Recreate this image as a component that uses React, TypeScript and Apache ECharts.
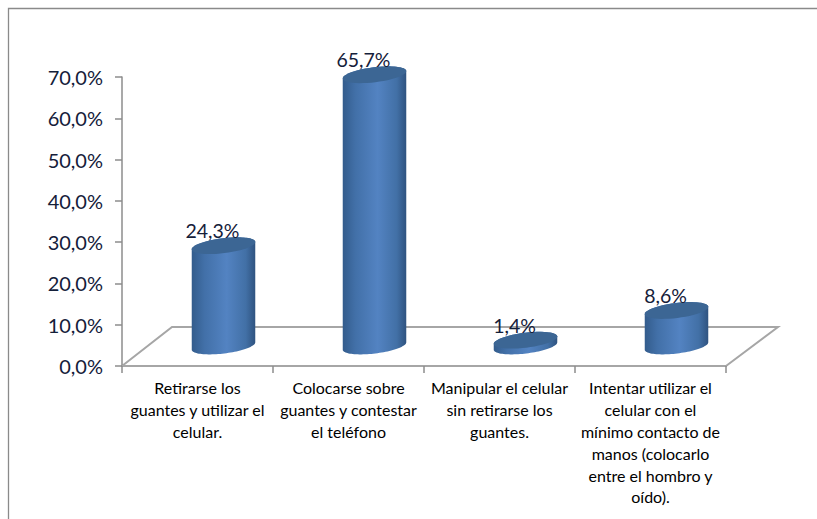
import React, { useEffect, useRef } from "react";
import * as echarts from "echarts";

const categories = [
  "Retirarse los\nguantes y utilizar el\ncelular.",
  "Colocarse sobre\nguantes y contestar\nel teléfono",
  "Manipular el celular\nsin retirarse los\nguantes.",
  "Intentar utilizar el\ncelular con el\nmínimo contacto de\nmanos (colocarlo\nentre el hombro y\noído).",
];
const values = [24.3, 65.7, 1.4, 8.6];
const valueTicks = [0, 10, 20, 30, 40, 50, 60, 70];

const FONT = "Lato, 'Open Sans', sans-serif";
const fmt = (v: number) => v.toFixed(1).replace(".", ",") + "%";

const DEPTH_X = 26;
const DEPTH_Y = -20;
const RX = 32;
const RY = 7.5;
const TILT_DEG = -7;

// Outline of the tilted ellipse between two parametric angles
function ellipseArc(cx: number, cy: number, from: number, to: number): number[][] {
  const t = (TILT_DEG * Math.PI) / 180;
  const steps = 48;
  const pts: number[][] = [];
  for (let k = 0; k <= steps; k++) {
    const a = from + ((to - from) * k) / steps;
    const x = RX * Math.cos(a);
    const y = RY * Math.sin(a);
    pts.push([cx + x * Math.cos(t) - y * Math.sin(t), cy + x * Math.sin(t) + y * Math.cos(t)]);
  }
  return pts;
}

function renderCylinder(_params: any, api: any) {
  const i = api.value(0);
  const v = api.value(1);
  const base = api.coord([i, 0]);
  const top = api.coord([i, v]);
  const cx = base[0] + DEPTH_X;
  const by = base[1] + DEPTH_Y;
  const ty = top[1] + DEPTH_Y;
  // lower half of the base (left to right), then upper half of the top (right to left)
  const body = [...ellipseArc(cx, by, Math.PI, 0), ...ellipseArc(cx, ty, 0, -Math.PI)];
  const cap = ellipseArc(cx, ty, 0, 2 * Math.PI);
  return {
    type: "group",
    children: [
      {
        type: "polygon",
        shape: { points: body },
        style: {
          fill: {
            type: "linear",
            x: 0,
            y: 0,
            x2: 1,
            y2: 0,
            colorStops: [
              { offset: 0, color: "#335c8c" },
              { offset: 0.2, color: "#4270a8" },
              { offset: 0.55, color: "#5383c2" },
              { offset: 0.85, color: "#4270a6" },
              { offset: 1, color: "#2f5380" },
            ],
          },
        },
      },
      {
        type: "polygon",
        shape: { points: cap },
        style: { fill: "#3c6694" },
      },
      {
        type: "text",
        z2: 10,
        style: {
          x: cx - 11,
          y: ty - 15,
          text: fmt(v),
          align: "center",
          verticalAlign: "middle",
          font: `19.5px ${FONT}`,
          fill: "#14203a",
        },
      },
    ],
  };
}

export default function App() {
  const ref = useRef<HTMLDivElement>(null);
  useEffect(() => {
    const chart = echarts.init(ref.current!, null, { renderer: "svg" });
    chart.setOption({
      animation: false,
      backgroundColor: "#ffffff",
      grid: { left: 122, top: 77, width: 604, height: 289, containLabel: false },
      xAxis: {
        type: "category",
        data: categories,
        axisLine: { lineStyle: { color: "#a6a6a6", width: 2 } },
        axisTick: { show: true, length: 7, alignWithLabel: false, lineStyle: { color: "#8c8c8c", width: 1.5 } },
        axisLabel: {
          interval: 0,
          margin: 11,
          fontFamily: FONT,
          fontSize: 16,
          lineHeight: 21.8,
          color: "#000000",
          align: "center",
          verticalAlign: "top",
        },
      },
      yAxis: {
        type: "value",
        min: valueTicks[0],
        max: valueTicks[valueTicks.length - 1],
        interval: 10,
        axisLine: { show: true, lineStyle: { color: "#8c8c8c", width: 1.5 } },
        axisTick: { show: true, length: 7, lineStyle: { color: "#8c8c8c", width: 1.5 } },
        splitLine: { show: false },
        axisLabel: {
          margin: 19,
          fontFamily: FONT,
          fontSize: 20,
          color: "#14203a",
          formatter: (v: number) => fmt(v),
        },
      },
      graphic: [
        {
          type: "polyline",
          z: 0,
          shape: { points: [[122, 366], [172, 327], [778, 327], [726, 366]] },
          style: { stroke: "#a6a6a6", lineWidth: 2, fill: "none" },
        },
        {
          type: "polyline",
          z: 0,
          shape: { points: [[8.5, 519], [8.5, 8.5], [817, 8.5]] },
          style: { stroke: "#8a8a8a", lineWidth: 1.3, fill: "none" },
        },
      ],
      series: [
        {
          type: "custom",
          coordinateSystem: "cartesian2d",
          clip: false,
          encode: { x: 0, y: 1 },
          data: values.map((v, i) => [i, v]),
          renderItem: renderCylinder,
        },
      ],
    });
    return () => chart.dispose();
  }, []);
  return <div ref={ref} style={{ position: "absolute", left: 0, top: 0, width: 817, height: 519 }} />;
}
